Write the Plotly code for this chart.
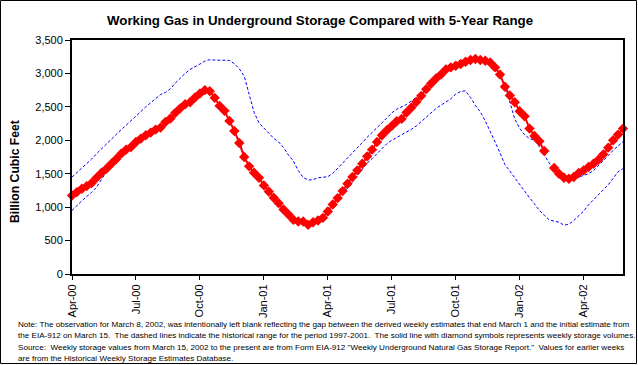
import pandas as pd
import plotly.graph_objects as go

# ---------------- data ----------------
start_date = "2000-04-28"          # first weekly observation (Friday)
n_weeks = 113

storage = [1175, 1225, 1275, 1315, 1360, 1440, 1515, 1575, 1650, 1720,
           1800, 1860, 1900, 1975, 2025, 2075, 2115, 2160, 2190, 2275,
           2325, 2410, 2478, 2540, 2570, 2640, 2700, 2750, 2735, 2635,
           2515, 2440, 2290, 2140, 1960, 1750, 1610, 1515, 1440, 1325,
           1235, 1140, 1060, 965, 890, 812, 785, 785, 735, 775,
           800, 840, 935, 1040, 1135, 1240, 1350, 1450, 1550, 1650,
           1760, 1860, 1975, 2075, 2150, 2215, 2285, 2320, 2415, 2490,
           2575, 2665, 2765, 2850, 2925, 2985, 3060, 3090, 3115, 3140,
           3175, 3200, 3215, 3200, 3190, 3165, 3090, 2985, 2800, 2670,
           2570, 2435, 2360, 2175, 2065, 1985, 1840, None, 1585, 1500,
           1440, 1425, 1450, 1510, 1550, 1600, 1650, 1710, 1790, 1890,
           2000, 2085, 2175]

range_high = [1450, 1515, 1585, 1655, 1720, 1800, 1875, 1945, 2015, 2090,
              2160, 2225, 2290, 2360, 2430, 2500, 2565, 2630, 2685, 2715,
              2770, 2855, 2935, 3000, 3060, 3095, 3140, 3185, 3205, 3200,
              3200, 3200, 3195, 3145, 3070, 2960, 2700, 2420, 2260, 2180,
              2100, 2030, 1975, 1890, 1780, 1690, 1545, 1445, 1405, 1410,
              1440, 1450, 1455, 1505, 1580, 1650, 1725, 1800, 1880, 1965,
              2045, 2125, 2190, 2260, 2340, 2410, 2465, 2500, 2535, 2590,
              2645, 2690, 2770, 2855, 2930, 2990, 3060, 3095, 3120, 3150,
              3185, 3205, 3215, 3205, 3190, 3160, 3080, 2970, 2830, 2570,
              2320, 2180, 2080, 2025, 2000, 1905, 1775, 1660, 1565, 1480,
              1420, 1405, 1425, 1450, 1470, 1500, 1545, 1615, 1690, 1770,
              1850, 1910, 1980]

range_low = [950, 1030, 1095, 1160, 1220, 1300, 1420, 1530, 1620, 1700,
             1780, 1850, 1895, 1960, 2010, 2060, 2100, 2140, 2175, 2210,
             2280, 2370, 2450, 2540, 2570, 2640, 2700, 2750, 2735, 2635,
             2515, 2440, 2290, 2140, 1990, 1780, 1610, 1515, 1440, 1325,
             1235, 1140, 1060, 965, 890, 812, 785, 785, 735, 775,
             800, 840, 935, 1040, 1135, 1225, 1280, 1375, 1475, 1575,
             1660, 1725, 1800, 1890, 1950, 2000, 2040, 2075, 2125, 2165,
             2215, 2280, 2340, 2410, 2475, 2525, 2570, 2620, 2690, 2730,
             2740, 2640, 2520, 2425, 2290, 2140, 1975, 1810, 1635, 1540,
             1440, 1340, 1230, 1140, 1050, 950, 880, 810, 790, 775,
             730, 745, 800, 865, 940, 1035, 1110, 1185, 1260, 1335,
             1430, 1530, 1575]

tick_every = 13
tick_labels = ["Apr-00", "Jul-00", "Oct-00", "Jan-01", "Apr-01",
               "Jul-01", "Oct-01", "Jan-02", "Apr-02"]

y_ticks = [0, 500, 1000, 1500, 2000, 2500, 3000, 3500]

title_text = "Working Gas in Underground Storage Compared with 5-Year Range"
y_title = "Billion Cubic Feet"
note_lines = [
    "Note: The observation for March 8, 2002, was intentionally left blank reflecting the gap between the derived weekly estimates that end March 1 and the initial estimate from",
    "the EIA-912 on March 15.  The dashed lines indicate the historical range for the period 1997-2001.  The solid line with diamond symbols represents weekly storage volumes.",
    "Source:  Weekly storage values from March 15, 2002 to the present are from Form EIA-912 \"Weekly Underground Natural Gas Storage Report.\"  Values for earlier weeks",
    "are from the Historical Weekly Storage Estimates Database.",
]

# ---------------- layout geometry ----------------
W, H = 638, 365
L, R, T, B = 72, 15, 40, 91
PW, PH = W - L - R, H - T - B


def px(x):
    return (x - L) / PW


def py(y):
    return (H - B - y) / PH


dates = pd.date_range(start_date, periods=n_weeks, freq="7D")
tick_vals = list(dates[::tick_every])

FONT = "Liberation Sans, Arial, sans-serif"

fig = go.Figure()
fig.add_trace(go.Scatter(x=dates, y=range_high, mode="lines",
                         line=dict(color="#0000FF", width=1, dash="3px,2px"),
                         hoverinfo="skip", showlegend=False))
fig.add_trace(go.Scatter(x=dates, y=range_low, mode="lines",
                         line=dict(color="#0000FF", width=1, dash="3px,2px"),
                         hoverinfo="skip", showlegend=False))
fig.add_trace(go.Scatter(x=dates, y=storage, mode="lines+markers",
                         line=dict(color="#FF0000", width=2),
                         marker=dict(symbol="diamond", size=8, color="#FF0000",
                                     line=dict(width=0)),
                         connectgaps=False, cliponaxis=False,
                         showlegend=False))

fig.update_layout(
    width=W, height=H,
    margin=dict(l=L, r=R, t=T, b=B, pad=0),
    paper_bgcolor="white", plot_bgcolor="white",
    font=dict(family=FONT, size=11, color="black"),
    showlegend=False,
)

fig.update_xaxes(
    range=[dates[0], dates[-1]],
    tickmode="array", tickvals=tick_vals, ticktext=tick_labels,
    tickangle=-90, ticks="outside", ticklen=4, tickwidth=1, tickcolor="black",
    showline=True, linecolor="black", linewidth=2, mirror=True,
    showgrid=False, zeroline=False,
    tickfont=dict(family=FONT, size=11),
)
fig.update_yaxes(
    range=[0, 3500],
    tickmode="array", tickvals=y_ticks,
    ticktext=[f"{v:,}" for v in y_ticks],
    ticks="outside", ticklen=5, tickwidth=1, tickcolor="black",
    showline=True, linecolor="black", linewidth=2, mirror=True,
    showgrid=False, zeroline=False,
    tickfont=dict(family=FONT, size=11),
)

ann = []
ann.append(dict(text="<b>" + title_text + "</b>", xref="paper", yref="paper",
                x=px(320), y=py(20), xanchor="center", yanchor="middle",
                showarrow=False, font=dict(family=FONT, size=13.3)))
ann.append(dict(text="<b>" + y_title + "</b>", xref="paper", yref="paper",
                x=px(15), y=py(172), xanchor="center", yanchor="middle",
                textangle=-90, showarrow=False, font=dict(family=FONT, size=12.2)))
for txt, yc in zip(note_lines, [324, 335.5, 347, 358.5]):
    ann.append(dict(text=txt, xref="paper", yref="paper",
                    x=px(16), y=py(yc), xanchor="left", yanchor="middle",
                    showarrow=False, font=dict(family=FONT, size=8.1)))
fig.update_layout(annotations=ann)

fig.add_shape(type="rect", xref="paper", yref="paper",
              x0=px(0.5), x1=px(636.5), y0=py(0.5), y1=py(363.5),
              line=dict(color="black", width=1), layer="above")

fig.write_html("out.html",
               config={"displayModeBar": False},
               post_script="document.body.style.margin='0px';"
                           "document.body.style.overflow='hidden';")
